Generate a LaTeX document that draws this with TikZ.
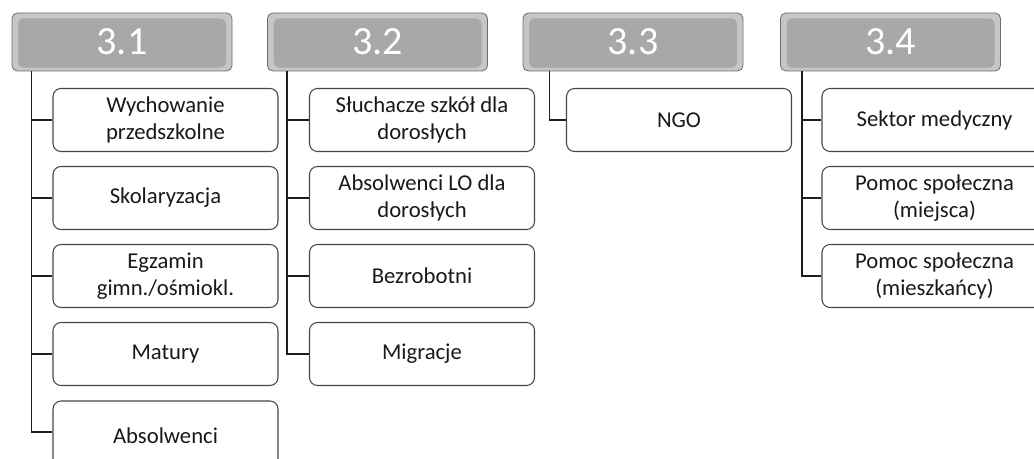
\documentclass[tikz,border=0pt]{standalone}
\usepackage{fontspec}
\setmainfont{Carlito}
\definecolor{hdrgray}{RGB}{168,168,168}
\definecolor{hdrlight}{RGB}{198,198,198}
\definecolor{hdredge}{RGB}{110,110,110}
\definecolor{boxedge}{RGB}{70,70,70}
\definecolor{lineclr}{RGB}{30,30,30}
\definecolor{txt}{RGB}{25,25,25}
\begin{document}
\begin{tikzpicture}[x=0.75pt,y=-0.75pt,
  hdr/.style={rounded corners=4pt, fill=hdrlight, draw=hdredge, line width=0.6pt,
    minimum width=165pt, minimum height=43.5pt, inner sep=0pt, text=white,
    font=\fontsize{30}{32}\selectfont,
    path picture={\fill[hdrgray] ([shift={(4.5pt,-4pt)}]path picture bounding box.north west)
      rectangle ([shift={(-4.5pt,2.5pt)}]path picture bounding box.south east);}},
  item/.style={rounded corners=6pt, draw=boxedge, line width=0.8pt, fill=white,
    minimum width=168.75pt, minimum height=47.25pt, inner sep=0pt, align=center,
    text=txt, font=\fontsize{17}{20.25}\selectfont},
  conn/.style={draw=lineclr, line width=1.1pt}]
\useasboundingbox (0,0) rectangle (1034,459);
\clip (0,0) rectangle (1034,459);
% headers
\node[hdr] (h1) at (122,42) {3.1};
\node[hdr] (h2) at (377.5,42) {3.2};
\node[hdr] (h3) at (633,42) {3.3};
\node[hdr] (h4) at (890.5,42) {3.4};
% column 1
\node[item] (a1) at (165.5,120) {Wychowanie\\przedszkolne};
\node[item] (a2) at (165.5,198) {Skolaryzacja};
\node[item] (a3) at (165.5,276) {Egzamin\\gimn./ośmiokl.};
\node[item] (a4) at (165.5,354) {Matury};
\node[item, minimum height=52.5pt] (a5) at (165.5,436) {Absolwenci};
% column 2
\node[item] (b1) at (422,120) {Słuchacze szkół dla\\dorosłych};
\node[item] (b2) at (422,198) {Absolwenci LO dla\\dorosłych};
\node[item] (b3) at (422,276) {Bezrobotni};
\node[item] (b4) at (422,354) {Migracje};
% column 3
\node[item] (c1) at (679,120) {NGO};
% column 4
\node[item] (d1) at (934.5,120) {Sektor medyczny};
\node[item] (d2) at (934.5,198) {Pomoc społeczna\\(miejsca)};
\node[item] (d3) at (934.5,276) {Pomoc społeczna\\(mieszkańcy)};
% connectors
\coordinate (t1) at ([xshift=15pt]h1.south west);
\coordinate (t2) at ([xshift=15pt]h2.south west);
\coordinate (t3) at ([xshift=20pt]h3.south west);
\coordinate (t4) at ([xshift=16.5pt]h4.south west);
\foreach \n in {a1,a2,a3,a4} \draw[conn] (t1) |- (\n.west);
\draw[conn] (t1) |- ([yshift=3pt]a5.west);
\foreach \n in {b1,b2,b3,b4} \draw[conn] (t2) |- (\n.west);
\draw[conn] (t3) |- (c1.west);
\foreach \n in {d1,d2,d3} \draw[conn] (t4) |- (\n.west);
\end{tikzpicture}
\end{document}
